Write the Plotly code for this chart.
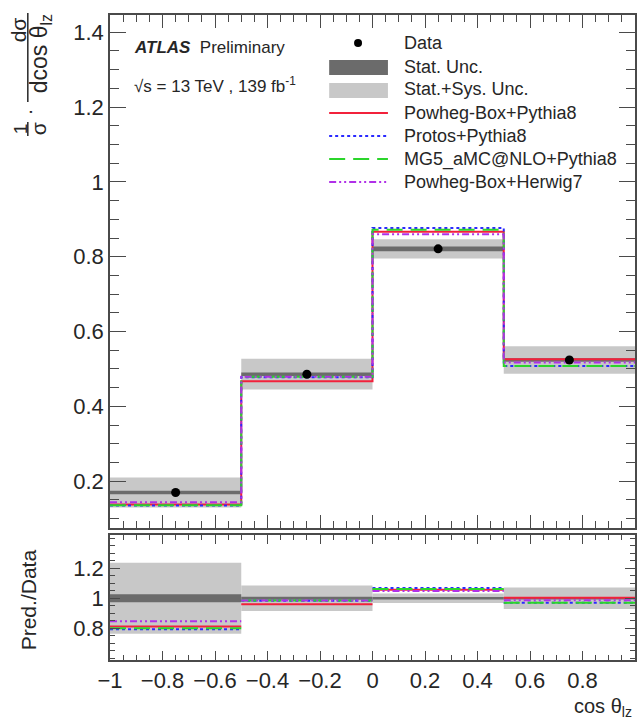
import plotly.graph_objects as go
from plotly.subplots import make_subplots

# ---- binned measurement of cos(theta_lz) ----
edges = [-1.0, -0.5, 0.0, 0.5, 1.0]
data = [0.170, 0.486, 0.821, 0.524]
stat_unc = [0.0046, 0.0048, 0.0065, 0.0047]
total_unc = [0.040, 0.041, 0.026, 0.037]

# ---- generator predictions ----
powheg_py8 = [0.138, 0.467, 0.867, 0.526]
protos_py8 = [0.135, 0.478, 0.877, 0.508]
mg5_py8 = [0.136, 0.479, 0.872, 0.508]
powheg_hw7 = [0.144, 0.479, 0.860, 0.517]

pred_names = ["Powheg-Box+Pythia8", "Protos+Pythia8", "MG5_aMC@NLO+Pythia8", "Powheg-Box+Herwig7"]
pred_values = [powheg_py8, protos_py8, mg5_py8, powheg_hw7]
pred_colors = ["#f2213b", "#2a2aff", "#2bd52b", "#b030e8"]
pred_dashes = ["solid", "3px,3px", "16px,8px", "7px,3px,2px,3px,2px,3px"]

x_ticks = [-1, -0.8, -0.6, -0.4, -0.2, 0, 0.2, 0.4, 0.6, 0.8]

W, H = 637, 723
ML, MR, MT, MB = 110, 0, 15, 63
PW, PH = W - ML - MR, H - MT - MB

FONT = "Liberation Sans, Arial, sans-serif"
TXT = "#262626"
AX = "#4a4a4a"
STAT_C = "#6b6b6b"
SYS_C = "#c8c8c8"


def px(x):
    return (x - ML) / PW


def py(y):
    return (H - MB - y) / PH


top_lo = py(528)
bot_hi = py(535)

fig = make_subplots(rows=2, cols=1, shared_xaxes=False, vertical_spacing=0.0)
fig.update_layout(
    xaxis=dict(domain=[0, 1]), yaxis=dict(domain=[top_lo, 1.0]),
    xaxis2=dict(domain=[0, 1]), yaxis2=dict(domain=[0.0, bot_hi]),
)

centers = [(edges[i] + edges[i + 1]) / 2 for i in range(len(data))]
widths = [edges[i + 1] - edges[i] for i in range(len(data))]

# ---- uncertainty bands (top) ----
fig.add_trace(go.Bar(x=centers, y=[2 * u for u in total_unc],
                     base=[d - u for d, u in zip(data, total_unc)], width=widths,
                     marker=dict(color=SYS_C, line=dict(width=0)), showlegend=False), row=1, col=1)
fig.add_trace(go.Bar(x=centers, y=[2 * u for u in stat_unc],
                     base=[d - u for d, u in zip(data, stat_unc)], width=widths,
                     marker=dict(color=STAT_C, line=dict(width=0)), showlegend=False), row=1, col=1)

# ---- uncertainty bands (ratio) ----
rel_tot = [u / d for u, d in zip(total_unc, data)]
rel_stat = [u / d for u, d in zip(stat_unc, data)]
fig.add_trace(go.Bar(x=centers, y=[2 * r for r in rel_tot], base=[1 - r for r in rel_tot],
                     width=widths, marker=dict(color=SYS_C, line=dict(width=0)),
                     showlegend=False), row=2, col=1)
fig.add_trace(go.Bar(x=centers, y=[2 * r for r in rel_stat], base=[1 - r for r in rel_stat],
                     width=widths, marker=dict(color=STAT_C, line=dict(width=0)),
                     showlegend=False), row=2, col=1)

# ---- prediction histograms ----
for name, vals, col, dash in zip(pred_names, pred_values, pred_colors, pred_dashes):
    fig.add_trace(go.Scatter(x=edges, y=vals + [vals[-1]], mode="lines", line_shape="hv",
                             line=dict(color=col, width=2, dash=dash), name=name,
                             showlegend=False), row=1, col=1)
    xs, ys = [], []
    for i, v in enumerate(vals):
        r = v / data[i]
        xs += [edges[i], edges[i + 1], None]
        ys += [r, r, None]
    fig.add_trace(go.Scatter(x=xs, y=ys, mode="lines", line=dict(color=col, width=2, dash=dash),
                             showlegend=False, connectgaps=False), row=2, col=1)

# ---- data points ----
fig.add_trace(go.Scatter(x=centers, y=data, mode="markers",
                         marker=dict(color="black", size=9), showlegend=False), row=1, col=1)

axis_common = dict(showline=True, linecolor=AX, linewidth=1.5, mirror="ticks",
                   ticks="inside", tickcolor=AX, tickwidth=1.2, showgrid=False, zeroline=False,
                   tickfont=dict(family=FONT, size=22, color=TXT))

fig.update_xaxes(range=[-1, 1], tickmode="array", tickvals=x_ticks, showticklabels=False,
                 ticklen=13, minor=dict(tick0=-1, dtick=0.05, ticklen=7, ticks="inside",
                                        tickcolor=AX, showgrid=False),
                 **axis_common, row=1, col=1)
fig.update_xaxes(range=[-1, 1], tickmode="array", tickvals=x_ticks, ticklen=9,
                 minor=dict(tick0=-1, dtick=0.05, ticklen=5, ticks="inside", tickcolor=AX,
                            showgrid=False),
                 **axis_common, row=2, col=1)
fig.update_yaxes(range=[0.075, 1.446], dtick=0.2, tick0=0, ticklen=16,
                 minor=dict(tick0=0, dtick=0.05, ticklen=9, ticks="inside", tickcolor=AX,
                            showgrid=False),
                 **axis_common, row=1, col=1)
fig.update_yaxes(range=[0.59, 1.42], tickmode="array", tickvals=[0.8, 1.0, 1.2],
                 ticktext=["0.8", "1", "1.2"], ticklen=10,
                 minor=dict(tick0=0, dtick=0.05, ticklen=5, ticks="inside", tickcolor=AX,
                            showgrid=False),
                 **axis_common, row=2, col=1)

shapes = []
annotations = []


def text(x, y, s, size, xanchor="left", angle=0):
    annotations.append(dict(x=px(x), y=py(y), xref="paper", yref="paper", text=s,
                            showarrow=False, xanchor=xanchor, yanchor="middle",
                            textangle=angle, font=dict(family=FONT, size=size, color=TXT)))


# ---- legend ----
leg_x0, leg_x1, leg_tx = 330, 389, 403
shapes.append(dict(type="circle", xref="paper", yref="paper", x0=px(355), x1=px(363),
                   y0=py(47), y1=py(39), fillcolor="black", line=dict(width=0)))
text(leg_tx, 43, "Data", 18)
shapes.append(dict(type="rect", xref="paper", yref="paper", x0=px(leg_x0), x1=px(leg_x1),
                   y0=py(75), y1=py(60), fillcolor=STAT_C, line=dict(width=0)))
text(leg_tx, 67, "Stat. Unc.", 18)
shapes.append(dict(type="rect", xref="paper", yref="paper", x0=px(leg_x0), x1=px(leg_x1),
                   y0=py(98), y1=py(83), fillcolor=SYS_C, line=dict(width=0)))
text(leg_tx, 89, "Stat.+Sys. Unc.", 18)
for k, (name, col, dash) in enumerate(zip(pred_names, pred_colors, pred_dashes)):
    yy = 113 + k * 23
    shapes.append(dict(type="line", xref="paper", yref="paper", x0=px(leg_x0), x1=px(leg_x1),
                       y0=py(yy), y1=py(yy), line=dict(color=col, width=2, dash=dash)))
    text(leg_tx, yy, name, 18)

# ---- experiment label ----
text(132, 47, "<b><i>ATLAS</i></b>  Preliminary", 17)
text(132, 85, "√s = 13 TeV , 139 fb<sup>-1</sup>", 17)

# ---- axis titles ----
text(636, 707, "cos θ<sub>lz</sub>", 20, xanchor="right")
text(28, 600, "Pred./Data", 21, xanchor="center", angle=-90)
text(18, 30, "dσ", 21, xanchor="center", angle=-90)
text(40, 54, "dcos θ<sub>lz</sub>", 23, xanchor="center", angle=-90)
text(20, 129, "1", 19, xanchor="center", angle=-90)
text(38, 129, "σ", 21, xanchor="center", angle=-90)
text(29, 112, "·", 20, xanchor="center", angle=-90)
shapes.append(dict(type="line", xref="paper", yref="paper", x0=px(27.5), x1=px(27.5),
                   y0=py(13), y1=py(102), line=dict(color=TXT, width=1.5)))
shapes.append(dict(type="line", xref="paper", yref="paper", x0=px(27.5), x1=px(27.5),
                   y0=py(122), y1=py(136), line=dict(color=TXT, width=1.5)))

fig.update_layout(
    width=W, height=H, margin=dict(l=ML, r=MR, t=MT, b=MB),
    paper_bgcolor="white", plot_bgcolor="white", barmode="overlay",
    shapes=shapes, annotations=annotations, showlegend=False,
    font=dict(family=FONT, color=TXT),
)

fig.write_html("out.html")
